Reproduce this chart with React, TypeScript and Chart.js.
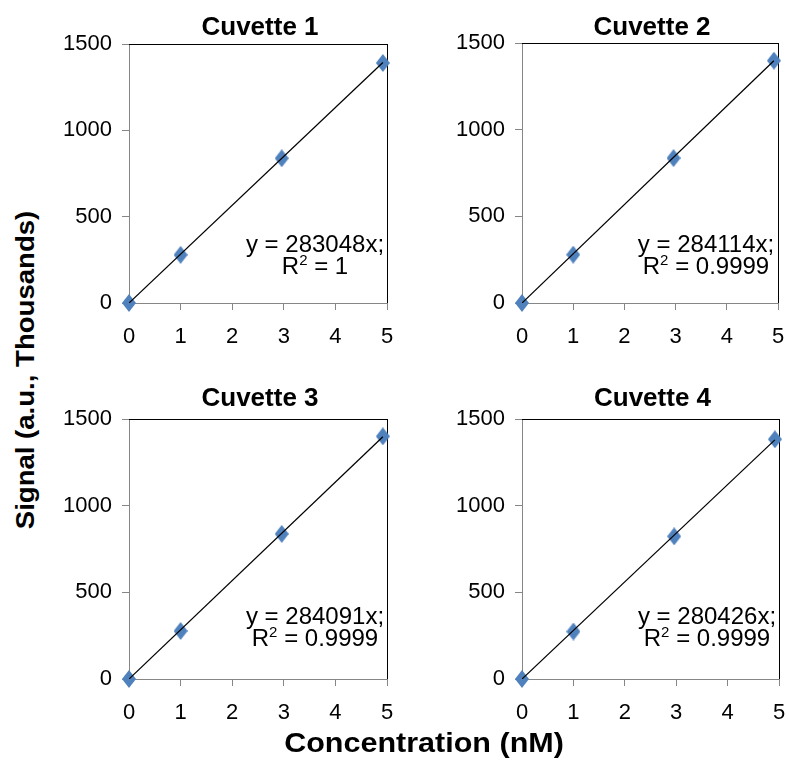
import React, { useEffect, useRef } from "react";
import { Chart, registerables } from "chart.js";

Chart.register(...registerables);

// ---------- data ----------
const panelTitles = ["Cuvette 1", "Cuvette 2", "Cuvette 3", "Cuvette 4"];
const concentrations = [0, 1, 2.96, 4.92]; // nM
const cuvette1Signal = [0, 279, 838, 1390]; // a.u., thousands
const cuvette2Signal = [0, 279, 836, 1398];
const cuvette3Signal = [0, 277, 837, 1400];
const cuvette4Signal = [0, 274, 823, 1383];
const signals = [cuvette1Signal, cuvette2Signal, cuvette3Signal, cuvette4Signal];
const trendSlopes = [283.048, 284.114, 284.091, 280.426]; // thousands per nM
const equationLabels = ["y = 283048x;", "y = 284114x;", "y = 284091x;", "y = 280426x;"];
const rSquaredLabels = ["1", "0.9999", "0.9999", "0.9999"];
const xTickValues = [0, 1, 2, 3, 4, 5];
const yTickValues = [0, 500, 1000, 1500];
const xAxisTitle = "Concentration (nM)";
const yAxisTitle = "Signal (a.u., Thousands)";

// ---------- layout ----------
const LAYOUT = [
  { left: 129, right: 391, top: 44, bottom: 303, titleBase: 35, eqBase: 252 },
  { left: 522, right: 782, top: 43, bottom: 303, titleBase: 35, eqBase: 252 },
  { left: 129, right: 391, top: 419, bottom: 679, titleBase: 406, eqBase: 623.5 },
  { left: 522, right: 783, top: 419, bottom: 679, titleBase: 406, eqBase: 623.5 },
];
const PAD_L = 75;
const PAD_T = 44;
const PAD_R = 6;
const PAD_B = 50;
const FONT = "'Liberation Sans', Arial, Helvetica, sans-serif";
const MARKER = "#4F81BD";
const AXIS_GREY = "#868686";

function makeDiamond(): HTMLCanvasElement {
  const c = document.createElement("canvas");
  const w = 14;
  const h = 18;
  c.width = w;
  c.height = h;
  const g = c.getContext("2d")!;
  g.fillStyle = MARKER;
  g.beginPath();
  g.moveTo(w / 2, 0);
  g.lineTo(w, h / 2);
  g.lineTo(w / 2, h);
  g.lineTo(0, h / 2);
  g.closePath();
  g.fill();
  return c;
}

function Panel({ idx }: { idx: number }) {
  const ref = useRef<HTMLCanvasElement>(null);
  const L = LAYOUT[idx];
  const w = L.right - L.left + PAD_L + PAD_R;
  const h = L.bottom - L.top + PAD_T + PAD_B;
  const canvasLeft = L.left - PAD_L;
  const canvasTop = L.top - PAD_T;

  useEffect(() => {
    if (!ref.current) return;
    const diamond = makeDiamond();
    const xs = concentrations;
    const ys = signals[idx];
    const lastX = xs[xs.length - 1];

    const decor = {
      id: "decor" + idx,
      beforeDatasetsDraw(chart: any) {
        const { ctx, chartArea: a } = chart;
        ctx.save();
        ctx.strokeStyle = "#000";
        ctx.lineWidth = 1;
        ctx.beginPath();
        ctx.moveTo(a.left, a.top + 0.5);
        ctx.lineTo(a.right + 1, a.top + 0.5);
        ctx.moveTo(a.right + 0.5, a.top);
        ctx.lineTo(a.right + 0.5, a.bottom);
        ctx.stroke();
        ctx.restore();
      },
      afterDraw(chart: any) {
        const { ctx, chartArea: a } = chart;
        ctx.save();
        ctx.fillStyle = "#000";
        // panel title
        ctx.font = `bold 26px ${FONT}`;
        ctx.textAlign = "center";
        ctx.textBaseline = "alphabetic";
        ctx.fillText(panelTitles[idx], (a.left + a.right) / 2 + 2, L.titleBase - canvasTop);
        // equation
        const cx = a.right - 72;
        const b1 = L.eqBase - canvasTop;
        const b2 = b1 + 22;
        ctx.font = `24px ${FONT}`;
        ctx.fillText(equationLabels[idx], cx, b1);
        const big = `24px ${FONT}`;
        const small = `15px ${FONT}`;
        ctx.font = big;
        const wR = ctx.measureText("R").width;
        const rest = " = " + rSquaredLabels[idx];
        const wRest = ctx.measureText(rest).width;
        ctx.font = small;
        const w2 = ctx.measureText("2").width;
        const total = wR + w2 + wRest;
        let x = cx - total / 2;
        ctx.textAlign = "left";
        ctx.font = big;
        ctx.fillText("R", x, b2);
        x += wR;
        ctx.font = small;
        ctx.fillText("2", x, b2 - 9);
        x += w2;
        ctx.font = big;
        ctx.fillText(rest, x, b2);
        ctx.restore();
      },
    };

    const plainTick = (v: any) => String(v);

    const chart = new Chart(ref.current, {
      type: "scatter",
      data: {
        datasets: [
          {
            label: "trend",
            data: [
              { x: 0, y: 0 },
              { x: lastX, y: trendSlopes[idx] * lastX },
            ],
            showLine: true,
            borderColor: "#000",
            borderWidth: 1.25,
            pointRadius: 0,
            fill: false,
          } as any,
          {
            label: panelTitles[idx],
            data: xs.map((x, i) => ({ x, y: ys[i] })),
            pointStyle: diamond,
            pointRadius: 9,
            backgroundColor: MARKER,
            borderColor: MARKER,
            showLine: false,
            clip: false,
          } as any,
        ],
      },
      options: {
        responsive: false,
        maintainAspectRatio: false,
        animation: false,
        events: [],
        layout: { padding: { top: PAD_T, right: PAD_R, left: 0, bottom: 0 } },
        plugins: {
          legend: { display: false },
          title: { display: false },
          tooltip: { enabled: false },
        },
        scales: {
          x: {
            type: "linear",
            min: xTickValues[0],
            max: xTickValues[xTickValues.length - 1],
            afterBuildTicks: (s: any) => {
              s.ticks = xTickValues.map((v) => ({ value: v }));
            },
            ticks: {
              font: { family: FONT, size: 22 },
              color: "#000",
              padding: 14,
              maxRotation: 0,
              autoSkip: false,
              callback: plainTick,
            },
            grid: {
              drawOnChartArea: false,
              drawTicks: true,
              tickLength: 7,
              color: AXIS_GREY,
              lineWidth: 1,
            },
            border: { color: AXIS_GREY, width: 1 },
            afterFit: (s: any) => {
              s.height = PAD_B;
              s.paddingLeft = 0;
              s.paddingRight = 0;
            },
          },
          y: {
            type: "linear",
            min: yTickValues[0],
            max: yTickValues[yTickValues.length - 1],
            afterBuildTicks: (s: any) => {
              s.ticks = yTickValues.map((v) => ({ value: v }));
            },
            ticks: {
              font: { family: FONT, size: 22 },
              color: "#000",
              padding: 10,
              autoSkip: false,
              callback: plainTick,
            },
            grid: {
              drawOnChartArea: false,
              drawTicks: true,
              tickLength: 7,
              color: AXIS_GREY,
              lineWidth: 1,
            },
            border: { color: AXIS_GREY, width: 1 },
            afterFit: (s: any) => {
              s.width = PAD_L;
              s.paddingTop = 0;
              s.paddingBottom = 0;
            },
          },
        },
      } as any,
      plugins: [decor],
    });
    return () => chart.destroy();
  }, [idx]);

  return (
    <canvas
      ref={ref}
      width={w}
      height={h}
      style={{ position: "absolute", left: canvasLeft, top: canvasTop, width: w, height: h }}
    />
  );
}

export default function App() {
  return (
    <div
      style={{
        position: "absolute",
        left: 0,
        top: 0,
        width: 789,
        height: 767,
        background: "#fff",
        overflow: "hidden",
      }}
    >
      {panelTitles.map((_, i) => (
        <Panel key={i} idx={i} />
      ))}
      <div
        style={{
          position: "absolute",
          left: 25,
          top: 370,
          transform: "translate(-50%, -50%) rotate(-90deg) scaleX(1.06)",
          whiteSpace: "nowrap",
          font: `bold 26px ${FONT}`,
          lineHeight: 1,
          color: "#000",
        }}
      >
        {yAxisTitle}
      </div>
      <div
        style={{
          position: "absolute",
          left: 424,
          top: 743,
          transform: "translate(-50%, -50%) scaleX(1.09)",
          whiteSpace: "nowrap",
          font: `bold 28px ${FONT}`,
          lineHeight: 1,
          color: "#000",
        }}
      >
        {xAxisTitle}
      </div>
    </div>
  );
}
